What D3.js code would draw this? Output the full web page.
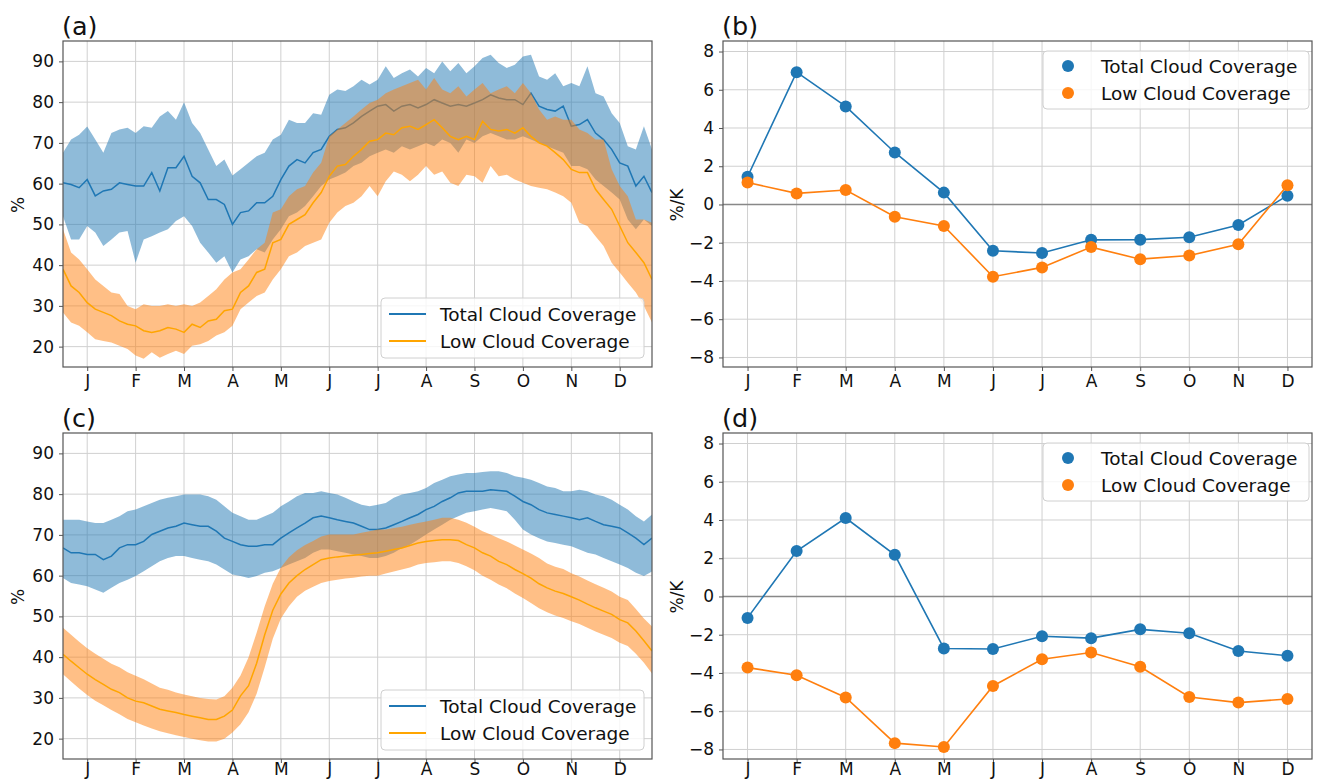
<!DOCTYPE html>
<html>
<head>
<meta charset="utf-8">
<script src="https://cdn.jsdelivr.net/npm/d3@7"></script>
<style>
body { margin: 0; background: #fff; }
svg { display: block; font-family: "DejaVu Sans", sans-serif; }
</style>
</head>
<body>
<svg id="fig" width="1317" height="781"></svg>
<script>
// ---- data ----
var months = ["J","F","M","A","M","J","J","A","S","O","N","D"];
var monthTickDays = [15,45,75,105,135,165,195,225,255,285,315,345];
var pctTicks = [20,30,40,50,60,70,80,90];
var sensTicks = [-8,-6,-4,-2,0,2,4,6,8];
var sampleDays = d3.range(0, 366, 5);   // one sample every 5 days

// (a) daily cloud coverage, %
var aTotalMean = [60.2,59.8,59.0,61.0,57.0,58.2,58.6,60.2,59.8,59.4,59.4,62.7,58.2,63.9,63.9,66.7,61.8,60.2,56.1,56.1,54.9,50.0,52.9,53.3,55.3,
  55.3,56.9,61.0,64.3,65.9,65.1,67.6,68.4,71.6,73.3,73.7,74.9,76.5,77.8,79.0,79.4,77.8,79.0,79.4,78.6,79.4,80.6,79.8,79.0,
  79.4,79.0,79.8,80.6,81.8,81.0,80.6,80.6,79.4,82.2,79.0,78.2,77.8,79.0,74.1,74.5,75.7,72.4,70.8,68.4,65.1,64.3,59.4,61.8,57.8];
var aTotalHi = [67.6,70.8,72.0,74.0,70.8,67.6,72.4,73.3,73.7,72.4,74.1,73.7,76.5,77.8,75.7,80.0,74.9,72.4,68.4,64.3,65.9,62.0,63.5,65.1,66.7,
  67.6,70.8,72.0,75.7,74.9,74.9,77.3,76.9,81.8,83.1,82.7,83.9,85.5,84.3,85.5,88.8,85.9,87.1,88.0,86.3,88.4,87.1,90.0,87.6,
  89.6,87.1,88.8,90.8,91.6,89.6,88.4,89.2,91.2,91.6,86.3,85.5,87.1,83.9,84.7,83.9,88.8,82.2,81.4,77.3,74.9,69.2,68.4,74.1,68.4];
var aTotalLo = [52.0,46.3,46.3,49.6,48.0,44.7,46.3,48.0,48.4,40.6,46.3,47.1,48.0,48.8,50.8,52.0,49.6,45.5,43.1,40.6,42.2,38.2,41.4,42.2,43.9,
  43.1,46.3,48.8,52.0,52.9,54.5,56.9,59.4,61.0,61.8,62.7,64.3,65.1,66.7,67.6,68.4,67.6,69.2,68.4,69.2,70.0,69.2,70.8,70.0,
  67.6,70.8,70.0,71.6,72.4,71.6,70.8,70.8,71.6,70.8,70.0,69.2,68.4,67.6,64.3,64.3,63.5,61.0,59.4,57.8,56.1,51.2,48.8,51.2,49.6];
var aLowMean = [39.0,34.9,33.3,30.8,29.2,28.4,27.6,26.3,25.5,25.1,23.9,23.5,23.9,24.7,24.3,23.5,25.5,24.7,26.3,26.7,28.8,29.2,33.3,34.9,38.2,
  39.0,45.5,46.3,50.0,51.2,52.4,55.3,57.8,61.8,64.3,64.7,66.7,68.4,70.4,70.8,72.4,72.0,73.7,74.1,73.3,74.5,75.7,73.7,71.6,
  70.8,71.6,70.8,75.3,73.3,72.9,73.3,72.4,73.7,71.6,70.0,69.2,67.6,65.9,63.5,62.7,62.7,58.6,56.1,53.7,49.6,45.5,43.1,40.6,36.5];
var aLowHi = [48.8,43.1,41.4,39.0,36.5,34.9,33.3,32.9,30.0,29.2,30.4,30.0,30.0,30.4,30.0,30.4,30.0,30.8,32.4,34.1,36.5,38.2,39.0,41.4,43.9,
  45.5,52.9,53.7,56.9,58.6,59.4,62.7,65.1,71.6,73.3,74.9,76.5,78.2,79.8,80.6,82.2,83.1,83.9,84.7,85.5,83.1,85.9,83.1,82.2,
  83.9,81.4,83.1,84.7,82.2,83.1,83.9,82.2,84.7,82.2,78.2,75.7,76.5,75.7,75.7,73.3,72.4,70.8,70.8,63.5,59.4,56.9,51.2,51.2,50.4];
var aLowLo = [28.4,25.9,25.1,23.5,21.8,21.4,21.0,20.2,19.4,17.8,17.0,18.6,17.3,18.2,19.0,18.2,20.2,20.6,21.4,22.7,23.5,25.1,29.2,30.8,32.4,
  33.3,36.5,39.0,42.2,43.1,44.7,45.5,46.3,50.4,52.9,54.5,55.3,56.9,59.4,56.9,60.6,63.0,62.2,60.6,62.2,64.3,62.2,63.0,60.2,
  59.4,62.2,61.8,60.2,64.3,61.8,62.2,61.0,60.2,59.4,59.0,58.6,57.8,56.9,55.3,50.4,49.6,47.1,44.7,40.6,38.2,35.7,33.3,30.0,25.9];

// (c) daily cloud coverage, %
var cTotalMean = [66.8,65.6,65.6,65.2,65.2,63.9,64.8,66.8,67.6,67.6,68.4,70.1,70.9,71.7,72.1,72.9,72.5,72.1,72.1,70.9,69.2,68.4,67.6,67.2,67.2,
  67.6,67.6,69.2,70.5,71.7,72.9,74.2,74.6,74.2,73.7,73.3,72.9,72.1,71.3,71.3,71.7,72.5,73.3,74.2,75.0,76.2,77.0,78.2,79.1,
  80.3,80.7,80.7,80.7,81.1,80.9,80.7,79.5,78.2,77.4,76.2,75.4,75.0,74.6,74.2,73.7,74.2,73.3,72.5,72.1,71.7,70.5,69.2,67.6,69.2];
var cTotalHi = [73.7,73.7,73.7,73.3,72.9,72.9,73.7,74.6,75.8,76.2,77.0,77.8,78.6,79.1,79.5,79.9,79.9,79.9,79.5,78.6,77.0,75.4,74.6,73.7,73.7,
  74.6,75.4,77.0,78.2,79.5,80.3,80.3,80.7,80.3,79.9,79.1,78.2,77.4,77.0,77.4,77.8,79.1,79.9,80.3,80.7,81.5,82.7,83.5,84.4,
  84.8,85.2,85.2,85.4,85.6,85.6,85.2,84.4,84.0,83.5,82.7,81.9,81.5,80.7,80.7,81.1,80.7,79.9,79.5,78.6,77.4,76.2,74.6,73.3,75.0];
var cTotalLo = [59.4,58.2,57.8,57.4,56.6,55.8,57.0,58.2,59.0,59.9,61.1,62.3,63.5,64.3,64.8,64.8,64.3,63.9,63.5,62.7,61.5,60.3,59.9,59.4,59.9,
  60.7,61.1,61.9,62.7,63.5,64.3,65.6,66.4,66.4,66.0,65.6,65.2,64.8,64.3,64.3,64.8,65.6,66.8,67.6,68.8,70.1,71.3,72.5,73.7,
  74.6,75.4,75.8,76.2,76.6,76.2,75.8,73.7,71.3,70.1,69.2,68.4,68.0,67.6,67.2,66.4,65.6,65.2,64.3,63.5,62.7,61.9,60.7,59.9,61.0];
var cLowMean = [40.7,39.0,37.4,35.8,34.5,33.3,32.1,31.3,30.0,29.2,28.8,28.0,27.2,26.8,26.4,25.9,25.5,25.1,24.7,24.7,25.5,27.0,30.5,33.0,38.5,
  45.5,51.5,55.5,58.2,60.0,61.5,62.7,63.9,64.3,64.6,64.8,65.0,65.2,65.4,65.6,66.0,66.4,66.8,67.4,68.0,68.4,68.6,68.8,68.8,
  68.6,67.6,66.8,65.6,64.8,63.5,62.7,61.5,60.5,59.4,58.0,57.0,56.2,55.6,54.8,54.0,53.0,52.1,51.3,50.5,49.2,48.4,46.4,44.0,41.5];
var cLowHi = [47.2,45.5,43.8,42.2,40.8,39.6,38.4,37.5,36.3,35.4,34.6,33.5,32.5,32.0,31.3,30.8,30.4,30.0,29.7,29.6,30.4,32.5,35.5,40.0,46.0,
  52.5,58.0,62.0,64.5,66.2,67.5,68.5,69.6,70.1,70.1,70.1,70.1,70.5,70.9,71.3,71.3,71.7,72.0,72.5,72.9,73.3,73.7,74.2,74.2,
  73.7,73.0,72.0,70.9,70.1,69.2,68.4,67.4,66.4,65.4,64.3,63.0,62.2,61.6,60.6,59.8,58.8,57.9,57.0,56.1,54.8,54.0,51.8,49.5,47.5];
var cLowLo = [35.8,34.0,32.3,30.7,29.3,28.2,27.0,26.0,24.8,24.0,23.2,22.5,21.8,21.3,20.8,20.4,20.0,19.6,19.3,19.3,20.0,21.5,23.5,26.5,31.0,
  37.5,44.5,49.5,52.5,54.8,56.3,57.3,58.2,58.7,59.0,59.3,59.5,59.8,60.0,60.0,60.5,61.0,61.5,62.0,62.7,63.1,63.3,63.5,63.5,
  63.1,62.3,61.3,60.0,59.0,57.8,56.9,55.6,54.5,53.3,52.0,51.0,50.2,49.6,48.8,48.1,47.2,46.3,45.5,44.7,43.5,42.7,40.8,38.6,36.0];

// (b) and (d) monthly sensitivity, %/K
var bTotal = [1.45,6.92,5.13,2.72,0.62,-2.42,-2.54,-1.85,-1.84,-1.71,-1.07,0.46];
var bLow   = [1.15,0.58,0.76,-0.64,-1.12,-3.78,-3.29,-2.23,-2.86,-2.67,-2.08,1.01];
var dTotal = [-1.12,2.38,4.10,2.18,-2.72,-2.75,-2.08,-2.18,-1.72,-1.92,-2.85,-3.10];
var dLow   = [-3.72,-4.12,-5.28,-7.67,-7.87,-4.68,-3.28,-2.93,-3.68,-5.26,-5.55,-5.36];

var blue = "#1f77b4", orange = "#ff7f0e", lowLine = "#ffa500";
var gridColor = "#d0d0d0";
var W = 589, H = 326;

var svg = d3.select("#fig");

function styleAxis(ax) {
    ax.select(".domain").remove();
    ax.selectAll(".tick line").attr("stroke", "#555");
    ax.selectAll(".tick text").attr("fill", "#111").style("font-size", "17px")
        .style("font-family", "DejaVu Sans");
}

function frame(g) {
    g.append("rect").attr("width", W).attr("height", H)
        .attr("fill", "none").attr("stroke", "#555").attr("stroke-width", 1.2);
}

function panelLabel(text, x, y) {
    svg.append("text").attr("x", x).attr("y", y).text(text)
        .style("font-size", "25.5px").attr("fill", "#111");
}

function yLabel(text, x, y) {
    svg.append("text").attr("transform", "translate(" + x + "," + y + ") rotate(-90)")
        .attr("text-anchor", "middle").attr("dominant-baseline", "central")
        .style("font-size", "17px").attr("fill", "#111").text(text);
}

// bottom row sits against the page edge, so its month labels hug the axis
function monthAxis(scale, values, fmt, pad) {
    return d3.axisBottom(scale).tickValues(values).tickSize(4).tickPadding(pad).tickFormat(fmt);
}

function dailyPanel(left, top, clipId, pad, tm, th, tl, lm, lh, ll) {
    var g = svg.append("g").attr("transform", "translate(" + left + "," + top + ")");
    var x = d3.scaleLinear().domain([0, 365]).range([0, W]);
    var y = d3.scaleLinear().domain([15, 95]).range([H, 0]);

    g.append("clipPath").attr("id", clipId).append("rect").attr("width", W).attr("height", H);

    g.selectAll(".vg").data(monthTickDays).enter().append("line")
        .attr("x1", function(d){ return x(d); }).attr("x2", function(d){ return x(d); })
        .attr("y1", 0).attr("y2", H).attr("stroke", gridColor).attr("stroke-width", 1);
    g.selectAll(".hg").data(pctTicks).enter().append("line")
        .attr("y1", function(d){ return y(d); }).attr("y2", function(d){ return y(d); })
        .attr("x1", 0).attr("x2", W).attr("stroke", gridColor).attr("stroke-width", 1);

    var plot = g.append("g").attr("clip-path", "url(#" + clipId + ")");

    function band(hi, lo) {
        return d3.area()
            .x(function(d, i){ return x(sampleDays[i]); })
            .y0(function(d, i){ return y(lo[i]); })
            .y1(function(d, i){ return y(hi[i]); })(sampleDays);
    }
    function line(vals) {
        return d3.line()
            .x(function(d, i){ return x(sampleDays[i]); })
            .y(function(d){ return y(d); })(vals);
    }

    plot.append("path").attr("d", band(th, tl)).attr("fill", blue).attr("fill-opacity", 0.5);
    plot.append("path").attr("d", line(tm)).attr("fill", "none").attr("stroke", blue).attr("stroke-width", 1.5);
    plot.append("path").attr("d", band(lh, ll)).attr("fill", orange).attr("fill-opacity", 0.5);
    plot.append("path").attr("d", line(lm)).attr("fill", "none").attr("stroke", lowLine).attr("stroke-width", 1.5);

    var ya = g.append("g").call(d3.axisLeft(y).tickValues(pctTicks).tickSize(4).tickPadding(5));
    styleAxis(ya);
    var xa = g.append("g").attr("transform", "translate(0," + H + ")")
        .call(monthAxis(x, monthTickDays, function(d, i){ return months[i]; }, pad));
    styleAxis(xa);
    frame(g);

    // legend
    var lg = g.append("g").attr("transform", "translate(318,257)");
    lg.append("rect").attr("width", 263).attr("height", 60).attr("rx", 4)
        .attr("fill", "#fff").attr("fill-opacity", 0.8).attr("stroke", "#d0d0d0");
    var items = [["Total Cloud Coverage", blue], ["Low Cloud Coverage", lowLine]];
    items.forEach(function(it, i) {
        var yy = 16 + i * 27;
        lg.append("line").attr("x1", 8).attr("x2", 45).attr("y1", yy).attr("y2", yy)
            .attr("stroke", it[1]).attr("stroke-width", 2);
        lg.append("text").attr("x", 59).attr("y", yy).attr("dominant-baseline", "central")
            .style("font-size", "18.5px").attr("fill", "#111").text(it[0]);
    });
}

function monthlyPanel(left, top, pad, total, low) {
    var g = svg.append("g").attr("transform", "translate(" + left + "," + top + ")");
    var x = d3.scaleLinear().domain([-0.5, 11.5]).range([0, W]);
    var y = d3.scaleLinear().domain([-8.5, 8.55]).range([H, 0]);
    var idx = d3.range(12);

    g.selectAll(".vg").data(idx).enter().append("line")
        .attr("x1", function(d){ return x(d); }).attr("x2", function(d){ return x(d); })
        .attr("y1", 0).attr("y2", H).attr("stroke", gridColor).attr("stroke-width", 1);
    g.selectAll(".hg").data(sensTicks).enter().append("line")
        .attr("y1", function(d){ return y(d); }).attr("y2", function(d){ return y(d); })
        .attr("x1", 0).attr("x2", W).attr("stroke", gridColor).attr("stroke-width", 1);

    g.append("line").attr("x1", 0).attr("x2", W).attr("y1", y(0)).attr("y2", y(0))
        .attr("stroke", "#888").attr("stroke-width", 1.6);

    var ln = d3.line().x(function(d, i){ return x(i); }).y(function(d){ return y(d); });
    [[total, blue], [low, orange]].forEach(function(s) {
        g.append("path").attr("d", ln(s[0])).attr("fill", "none")
            .attr("stroke", s[1]).attr("stroke-width", 1.6);
        g.selectAll(null).data(s[0]).enter().append("circle")
            .attr("cx", function(d, i){ return x(i); }).attr("cy", function(d){ return y(d); })
            .attr("r", 6).attr("fill", s[1]);
    });

    var ya = g.append("g").call(d3.axisLeft(y).tickValues(sensTicks).tickSize(4).tickPadding(5));
    styleAxis(ya);
    var xa = g.append("g").attr("transform", "translate(0," + H + ")")
        .call(monthAxis(x, idx, function(d){ return months[d]; }, pad));
    styleAxis(xa);
    frame(g);

    var lg = g.append("g").attr("transform", "translate(320,10)");
    lg.append("rect").attr("width", 266).attr("height", 58).attr("rx", 4)
        .attr("fill", "#fff").attr("fill-opacity", 0.8).attr("stroke", "#d0d0d0");
    [["Total Cloud Coverage", blue], ["Low Cloud Coverage", orange]].forEach(function(it, i) {
        var yy = 15 + i * 27;
        lg.append("circle").attr("cx", 25).attr("cy", yy).attr("r", 6).attr("fill", it[1]);
        lg.append("text").attr("x", 58).attr("y", yy).attr("dominant-baseline", "central")
            .style("font-size", "18.5px").attr("fill", "#111").text(it[0]);
    });
}

dailyPanel(63, 41, "clipA", 4, aTotalMean, aTotalHi, aTotalLo, aLowMean, aLowHi, aLowLo);
monthlyPanel(723, 41, 4, bTotal, bLow);
dailyPanel(63, 433, "clipC", 0, cTotalMean, cTotalHi, cTotalLo, cLowMean, cLowHi, cLowLo);
monthlyPanel(723, 433, 0, dTotal, dLow);

panelLabel("(a)", 62, 35);
panelLabel("(b)", 722, 35);
panelLabel("(c)", 62, 427);
panelLabel("(d)", 722, 427);

yLabel("%", 18, 205);
yLabel("%/K", 677, 205);
yLabel("%", 18, 597);
yLabel("%/K", 677, 597);
</script>
</body>
</html>
